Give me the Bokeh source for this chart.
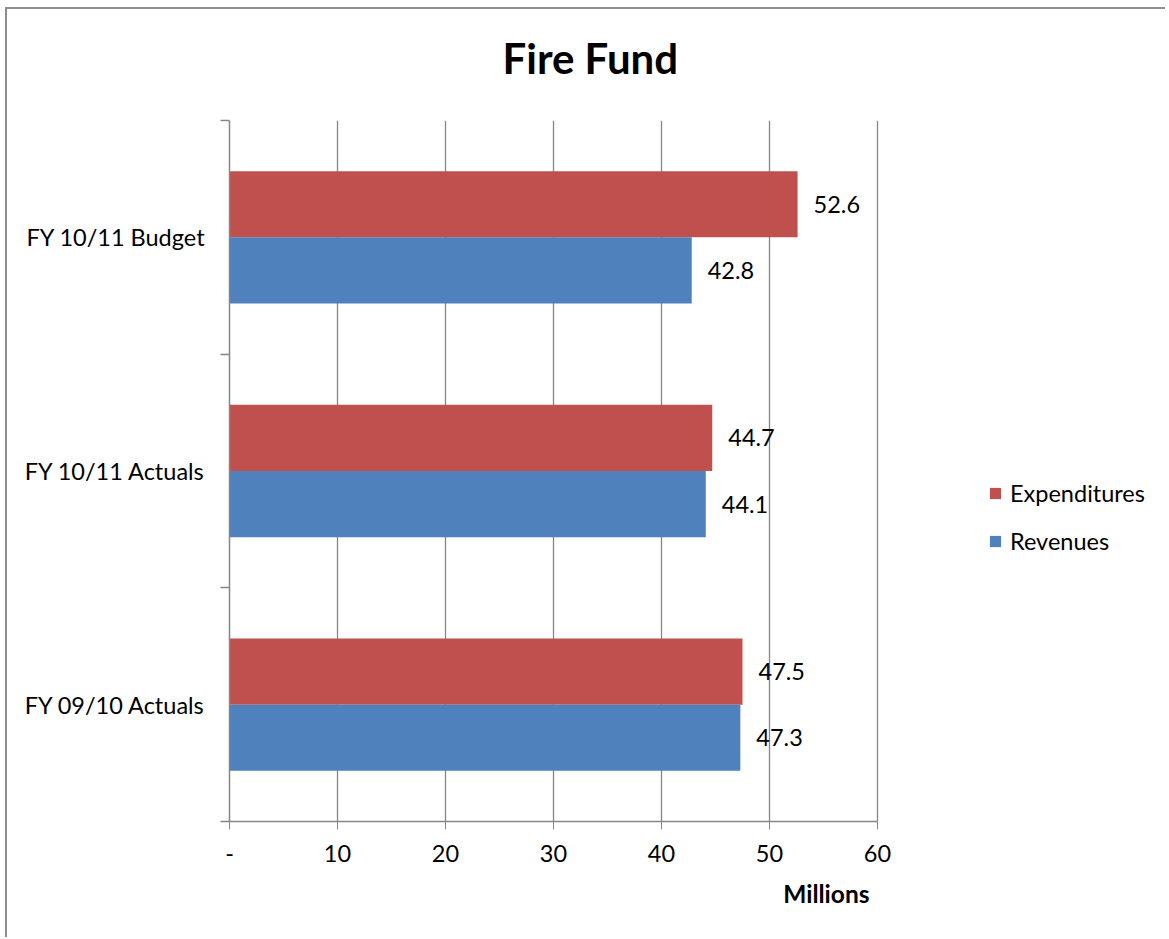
from bokeh.plotting import figure
from bokeh.models import (Range1d, FixedTicker, Title, Legend, LegendItem,
                          ColumnDataSource)
from bokeh.core.properties import value
from bokeh.embed import file_html
from bokeh.resources import INLINE

categories = ["FY 09/10 Actuals", "FY 10/11 Actuals", "FY 10/11 Budget"]
expenditures = [47.5, 44.7, 52.6]
revenues = [47.3, 44.1, 42.8]
x_ticks = [0, 10, 20, 30, 40, 50, 60]
x_tick_labels = ["-", "10", "20", "30", "40", "50", "60"]

FONT = "Lato"
FS = "23.5px"
RED = "#C0504D"
BLUE = "#4F81BD"
GRAY = "#868686"

BAR_H = 0.283
pos = [i + 0.5 for i in range(len(categories))]

# frame spans from the value axis to near the right edge; the value scale
# covers 0..60 over 648 px, the rest holds the legend
W, H = 1160, 930
ML, MR, MT, MB = 222, 5, 111, 118
frame_w = W - ML - MR
x_end = 60 * frame_w / 648.0

p = figure(width=W, height=H, output_backend="svg", toolbar_location=None,
           x_range=Range1d(0, x_end), y_range=Range1d(0, len(categories)),
           min_border_left=ML, min_border_right=MR, min_border_top=MT,
           min_border_bottom=MB)
p.styles = {"margin-left": "5px", "margin-top": "7px",
            "border-left": "2px solid #8e8e8e", "border-top": "2px solid #8e8e8e"}
p.outline_line_color = None
p.background_fill_color = "white"
p.border_fill_color = "white"

src_e = ColumnDataSource(dict(y=[c + BAR_H / 2 for c in pos], v=expenditures,
                              t=[f"{v:.1f}" for v in expenditures]))
src_r = ColumnDataSource(dict(y=[c - BAR_H / 2 for c in pos], v=revenues,
                              t=[f"{v:.1f}" for v in revenues]))

r_e = p.hbar(y="y", right="v", left=0, height=BAR_H, source=src_e,
             fill_color=RED, line_color=None)
r_r = p.hbar(y="y", right="v", left=0, height=BAR_H, source=src_r,
             fill_color=BLUE, line_color=None)

for src in (src_e, src_r):
    p.text(x="v", y="y", text="t", source=src, x_offset=16,
           text_align="left", text_baseline="middle",
           text_font=value(FONT), text_font_size=FS, text_color="black")

# x axis
p.xaxis.ticker = FixedTicker(ticks=x_ticks)
p.xaxis.bounds = (0, 60)
p.xaxis.major_label_overrides = {t: l for t, l in zip(x_ticks, x_tick_labels)}
p.xaxis.major_label_text_font = FONT
p.xaxis.major_label_text_font_size = FS
p.xaxis.major_label_text_color = "black"
p.xaxis.major_label_standoff = 15
p.xaxis.major_tick_out = 8
p.xaxis.major_tick_in = 0
p.xaxis.minor_tick_out = 0
p.xaxis.axis_line_color = GRAY
p.xaxis.major_tick_line_color = GRAY
p.xaxis.axis_line_width = 1.5

# y axis
p.yaxis.ticker = FixedTicker(ticks=pos, minor_ticks=list(range(len(categories) + 1)))
p.yaxis.major_label_overrides = {c: name for c, name in zip(pos, categories)}
p.yaxis.major_label_text_font = FONT
p.yaxis.major_label_text_font_size = FS
p.yaxis.major_label_text_color = "black"
p.yaxis.major_tick_out = 0
p.yaxis.major_tick_in = 0
p.yaxis.minor_tick_out = 9
p.yaxis.minor_tick_in = 0
p.yaxis.minor_tick_line_color = GRAY
p.yaxis.minor_tick_line_width = 1.5
p.yaxis.major_label_standoff = 15
p.yaxis.axis_line_color = GRAY
p.yaxis.axis_line_width = 1.5

p.xgrid.ticker = FixedTicker(ticks=x_ticks)
p.xgrid.grid_line_color = GRAY
p.xgrid.grid_line_width = 1.3
p.ygrid.grid_line_color = None

# title (with a spacer between it and the plot) and axis caption
p.add_layout(Title(text=" ", text_font_size="1px", standoff=35), "above")
p.add_layout(Title(text="Fire Fund", text_font=FONT, text_font_size="42px",
                   text_font_style="bold", align="left", offset=273,
                   standoff=0, text_color="black"), "above")
p.add_layout(Title(text="Millions", text_font=FONT, text_font_size="24.5px",
                   text_font_style="bold", align="right",
                   offset=(W - MR + 7) - 869, standoff=25,
                   text_color="black"), "below")

legend = Legend(items=[LegendItem(label="Expenditures", renderers=[r_e]),
                       LegendItem(label="Revenues", renderers=[r_r])],
                location=(759, 266), orientation="vertical",
                label_text_font=FONT, label_text_font_size=FS,
                label_text_color="black",
                glyph_width=14, glyph_height=14, label_standoff=8,
                spacing=20, padding=0, margin=0, border_line_color=None,
                background_fill_alpha=0)
p.add_layout(legend, "center")

open("out.html", "w").write(file_html(p, INLINE))
